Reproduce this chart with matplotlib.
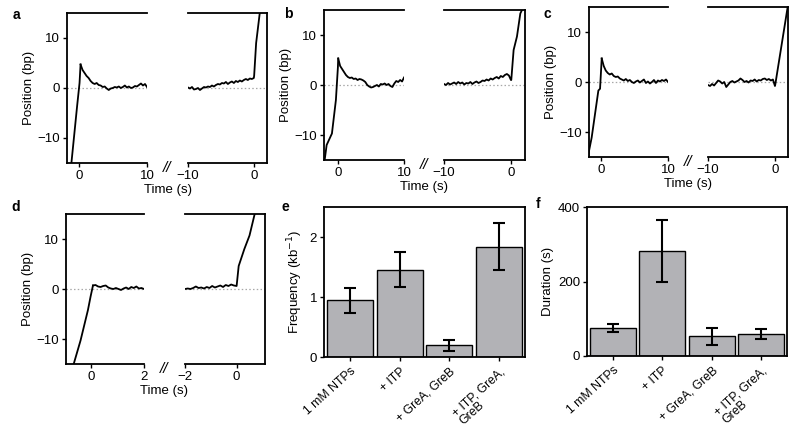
import numpy as np
import matplotlib
matplotlib.use("Agg")
import matplotlib.pyplot as plt

plt.rcParams["font.family"] = ["Liberation Sans", "DejaVu Sans"]
plt.rcParams["font.size"] = 10

W, H = 800, 428

# ---- traces ----
# panel a
a_rise_t = [-1.3, -1.15, -0.3, 0.05, 0.2]
a_rise_y = [-16, -15, -3.5, 1.0, 4.7]
a_left_y = [3.6, 3.0, 2.4, 2.0, 1.4, 1.0, 0.8, 1.0, 0.6, 0.5, 0.2, 0.3, -0.1, -0.4, -0.1,
            0.0, 0.2, 0.1, 0.3, 0.0, 0.2, 0.5, 0.1, 0.3, 0.0, 0.1, 0.4, 0.3, 0.6, 0.9, 0.5, 0.8, 0.2]
a_right_y = [0.1, -0.1, 0.2, -0.3, -0.2, 0.0, -0.4, -0.1, 0.2, 0.1, 0.3, 0.2, 0.5, 0.3, 0.6, 0.8, 0.7,
             1.0, 0.9, 1.2, 0.8, 1.1, 1.3, 1.0, 1.4, 1.2, 1.5, 1.3, 1.6, 1.8, 1.6, 1.9, 1.8, 2.0]
a_end_t = [0.05, 0.35, 0.9, 1.0]
a_end_y = [2.5, 9.0, 15.0, 16.0]

# panel b
b_rise_t = [-2.1, -2.0, -1.7, -0.9, -0.3, 0.0, 0.05]
b_rise_y = [-16, -15, -12, -9.7, -3.0, 3.5, 5.3]
b_left_y = [3.8, 3.2, 2.6, 2.0, 1.6, 1.4, 1.5, 1.2, 1.3, 1.0, 1.2, 1.1, 0.9, 0.6, 0.0, -0.3, -0.5,
            -0.4, -0.2, 0.0, -0.3, 0.2, 0.1, 0.3, 0.0, 0.2, -0.2, -0.4, 0.3, 0.8, 0.6, 1.0, 0.7, 1.5]
b_right_y = [0.2, 0.0, 0.4, 0.1, 0.3, 0.5, 0.2, 0.6, 0.3, 0.5, 0.1, 0.4, 0.3, 0.6, 0.2, 0.5, 0.7,
             0.4, 0.6, 0.9, 0.8, 1.1, 0.9, 1.3, 1.1, 1.4, 1.6, 1.3, 1.8, 1.6, 2.0, 2.2, 1.9, 1.0]
b_end_t = [0.05, 0.4, 0.9, 1.4, 1.65, 1.8]
b_end_y = [1.0, 7.0, 9.7, 14.3, 15.0, 16.0]

# panel c
c_rise_t = [-1.95, -1.8, -1.4, -0.4, -0.15, 0.1]
c_rise_y = [-16, -13.8, -11.1, -1.7, -1.35, 4.7]
c_left_y = [3.2, 2.3, 1.8, 1.5, 1.7, 1.2, 1.0, 1.1, 0.7, 0.5, 0.3, 0.6, 0.2, 0.4, 0.0, -0.2, 0.1,
            0.3, -0.1, 0.2, 0.5, -0.2, 0.1, -0.3, 0.0, 0.4, -0.2, 0.3, 0.1, 0.4, 0.2, 0.5, 0.0]
c_right_y = [-0.6, -0.8, -0.4, -0.7, -0.2, 0.3, 0.1, -0.3, 0.0, -1.0, -0.5, 0.0, 0.2, -0.1, 0.1, 0.3,
             0.7, 0.4, 0.0, 0.2, -0.1, 0.3, 0.2, 0.5, 0.1, 0.4, 0.3, 0.6, 0.7, 0.4, 0.6, 0.3, 0.5, -0.8]
c_end_t = [0.05, 1.9, 2.0]
c_end_y = [-0.5, 15.0, 16.0]

# panel d
d_rise_t = [-0.72, -0.67, -0.4, -0.12, -0.02, 0.07]
d_rise_y = [-16, -15.2, -10.3, -4.2, -1.5, 0.7]
d_left_y = [0.8, 0.5, 0.4, 0.6, 0.7, 0.3, 0.1, 0.0, 0.2, 0.0, -0.2, 0.1, 0.3, 0.0, 0.4, 0.2, 0.5,
            0.1, 0.2, 0.0]
d_right_y = [0.0, 0.1, 0.0, 0.2, 0.5, 0.2, 0.3, 0.1, 0.4, 0.2, 0.6, 0.3, 0.5, 0.7, 0.4, 0.8, 0.6,
             0.9, 0.7, 0.6]
d_end_t = [0.08, 0.3, 0.5, 0.7, 0.75]
d_end_y = [4.6, 8.0, 10.7, 15.0, 16.0]

# ---- bars ----
conditions = ["1 mM NTPs", "+ ITP", "+ GreA, GreB", "+ ITP, GreA,\nGreB"]
freq = [0.95, 1.45, 0.20, 1.83]
freq_lo = [0.73, 1.17, 0.10, 1.45]
freq_hi = [1.15, 1.75, 0.28, 2.23]
dur = [75, 283, 53, 59]
dur_lo = [64, 200, 29, 45]
dur_hi = [85, 365, 75, 72]


def rect(x0, y0, x1, y1):
    return [x0 / W, 1 - y1 / H, (x1 - x0) / W, (y1 - y0) / H]


fig = plt.figure(figsize=(8, 4.28), dpi=100)

LW = 1.3
SPW = 1.3
FS = 9.5


def trace_panel(box_l, box_r, y0, y1, xl, xr, rise, left_y, right_y, end, letter,
                ticks_l, ticks_r, lblx, lbly):
    axl = fig.add_axes(rect(box_l[0], y0, box_l[1], y1))
    axr = fig.add_axes(rect(box_r[0], y0, box_r[1], y1))
    axl.plot(rise[0], rise[1], color="black", lw=LW, clip_on=True)
    tl = np.linspace(rise[0][-1], xl[1], len(left_y) + 1)[1:]
    axl.plot([rise[0][-1]] + list(tl), [rise[1][-1]] + list(left_y), color="black", lw=LW)
    tr = np.linspace(xr[0], 0, len(right_y))
    axr.plot(list(tr) + list(end[0]), list(right_y) + list(end[1]), color="black", lw=LW)
    for ax, xlim, ticks in ((axl, xl, ticks_l), (axr, xr, ticks_r)):
        ax.axhline(0, color="#a8a8a8", lw=0.9, ls=(0, (1.2, 1.8)), zorder=0)
        ax.set_xlim(*xlim)
        ax.set_ylim(-15, 15)
        ax.set_xticks(ticks)
        ax.set_xticklabels([str(t).replace("-", "\u2212") for t in ticks])
        ax.tick_params(direction="out", length=3, width=1, labelsize=FS, pad=2)
        for s in ax.spines.values():
            s.set_linewidth(SPW)
    axl.spines["right"].set_visible(False)
    axr.spines["left"].set_visible(False)
    axr.set_yticks([])
    axl.set_yticks([-10, 0, 10])
    axl.set_yticklabels(["\u221210", "0", "10"])
    axl.set_ylabel("Position (bp)", fontsize=FS, labelpad=2)
    bx = (box_l[1] + box_r[0]) / 2
    fig.text(bx / W, 1 - (y1 + 5) / H, "//", fontsize=11, style="italic",
             ha="center", va="center")
    fig.text(bx / W, 1 - (y1 + 27) / H, "Time (s)", fontsize=FS, ha="center", va="center")
    fig.text(lblx / W, 1 - lbly / H, letter, fontsize=10, fontweight="bold",
             ha="center", va="center")


trace_panel((67, 147), (188, 267), 13, 163, (-1.8, 10), (-10, 2),
            (a_rise_t, a_rise_y), a_left_y, a_right_y, (a_end_t, a_end_y), "a",
            [0, 10], [-10, 0], 16, 15)
trace_panel((324, 404), (444, 525), 10, 160, (-2.1, 10), (-10, 2.1),
            (b_rise_t, b_rise_y), b_left_y, b_right_y, (b_end_t, b_end_y), "b",
            [0, 10], [-10, 0], 288, 14)
trace_panel((589, 668), (708, 788), 7, 157, (-1.8, 10), (-10, 1.95),
            (c_rise_t, c_rise_y), c_left_y, c_right_y, (c_end_t, c_end_y), "c",
            [0, 10], [-10, 0], 547, 14)
trace_panel((66, 144), (185, 265), 214, 364, (-0.95, 2), (-2, 1.1),
            (d_rise_t, d_rise_y), d_left_y, d_right_y, (d_end_t, d_end_y), "d",
            [0, 2], [-2, 0], 16, 207)


def bar_panel(box, vals, lo, hi, ylim, yticks, ylabel, letter, lblx, lbly):
    ax = fig.add_axes(rect(*box))
    x = np.arange(len(vals))
    err = [np.array(vals) - np.array(lo), np.array(hi) - np.array(vals)]
    ax.bar(x, vals, width=0.92, color="#b2b2b6", edgecolor="black", linewidth=1.0)
    ax.errorbar(x, vals, yerr=err, fmt="none", ecolor="black", elinewidth=1.5,
                capsize=4, capthick=1.5)
    ax.set_xlim(-0.52, len(vals) - 0.48)
    ax.set_ylim(*ylim)
    ax.set_yticks(yticks)
    ax.set_xticks(x)
    ax.set_xticklabels(conditions, rotation=42, ha="right", rotation_mode="anchor",
                       fontsize=8.8, linespacing=1.0, multialignment="left")
    ax.tick_params(direction="out", length=3, width=1, labelsize=FS, pad=2)
    ax.tick_params(axis="x", labelsize=8.8, pad=3)
    for s in ax.spines.values():
        s.set_linewidth(SPW)
    ax.set_ylabel(ylabel, fontsize=FS, labelpad=3)
    fig.text(lblx / W, 1 - lbly / H, letter, fontsize=10, fontweight="bold",
             ha="center", va="center")


bar_panel((324, 207, 525, 357), freq, freq_lo, freq_hi, (0, 2.5), [0, 1, 2],
          "Frequency (kb$^{-1}$)", "e", 285, 207)
bar_panel((587, 207, 787, 356), dur, dur_lo, dur_hi, (0, 400), [0, 200, 400],
          "Duration (s)", "f", 538, 204)

fig.savefig("out.png", dpi=100)
